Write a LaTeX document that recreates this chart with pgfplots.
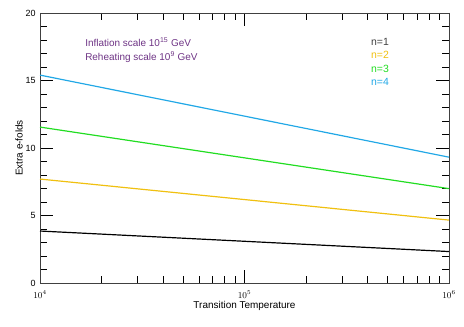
\documentclass[border=0pt]{standalone}
\usepackage{pgfplots}
\pgfplotsset{compat=1.18}
\usepackage{fontspec}
\setmainfont{Liberation Sans}
\definecolor{cblue}{HTML}{22A8E6}
\definecolor{cgreen}{HTML}{22DD22}
\definecolor{cyellow}{HTML}{F0C010}
\definecolor{cpurple}{HTML}{6E3485}
\definecolor{cgray}{HTML}{404040}
\begin{document}
\begin{tikzpicture}[font=\fontsize{9}{10}\selectfont]
\path[use as bounding box] (-40bp,-44bp) rectangle (424bp,283bp);
\begin{axis}[
    at={(0,0)}, anchor=south west,
    scale only axis,
    width=409bp, height=270bp,
    xmode=log,
    xmin=1e4, xmax=1e6,
    ymin=0, ymax=20,
    xtick={1e4,1e5,1e6},
    minor xtick={2e4,3e4,4e4,5e4,6e4,7e4,8e4,9e4,2e5,3e5,4e5,5e5,6e5,7e5,8e5,9e5},
    ytick={0,5,10,15,20},
    minor ytick={1,2,3,4,6,7,8,9,11,12,13,14,16,17,18,19},
    tick align=inside,
    major tick length=13bp,
    minor tick length=7bp,
    tick style={black, line width=0.8pt},
    axis line style={cgray, line width=0.7pt},
    xticklabel style={yshift=-4bp},
    yticklabel style={xshift=-1bp},
    xlabel={Transition Temperature},
    ylabel={Extra e-folds},
    label style={font=\fontsize{10}{11}\selectfont},
    xlabel style={yshift=4bp},
    ylabel style={yshift=-4bp},
    /pgf/number format/assume math mode=true,
    clip=false,
]
\addplot[black, line width=1.2pt] coordinates {(1e4,3.85) (1e5,3.09) (1e6,2.33)};
\addplot[cyellow, line width=1.2pt] coordinates {(1e4,7.70) (1e5,6.18) (1e6,4.66)};
\addplot[cgreen, line width=1.2pt] coordinates {(1e4,11.55) (1e5,9.27) (1e6,6.99)};
\addplot[cblue, line width=1.2pt] coordinates {(1e4,15.40) (1e5,12.36) (1e6,9.32)};
\node[anchor=west, text=cpurple, align=left, font=\fontsize{10}{14}\selectfont] at (axis cs:1.6e4,17.25) {Inflation scale 10\textsuperscript{15} GeV\\Reheating scale 10\textsuperscript{9} GeV};
\node[anchor=west, text=cgray, font=\fontsize{10.5}{11}\selectfont] at (axis cs:4e5,17.85) {n=1};
\node[anchor=west, text=cyellow, font=\fontsize{10.5}{11}\selectfont] at (axis cs:4e5,16.9) {n=2};
\node[anchor=west, text=cgreen, font=\fontsize{10.5}{11}\selectfont] at (axis cs:4e5,15.85) {n=3};
\node[anchor=west, text=cblue, font=\fontsize{10.5}{11}\selectfont] at (axis cs:4e5,14.9) {n=4};
\end{axis}
\end{tikzpicture}
\end{document}
